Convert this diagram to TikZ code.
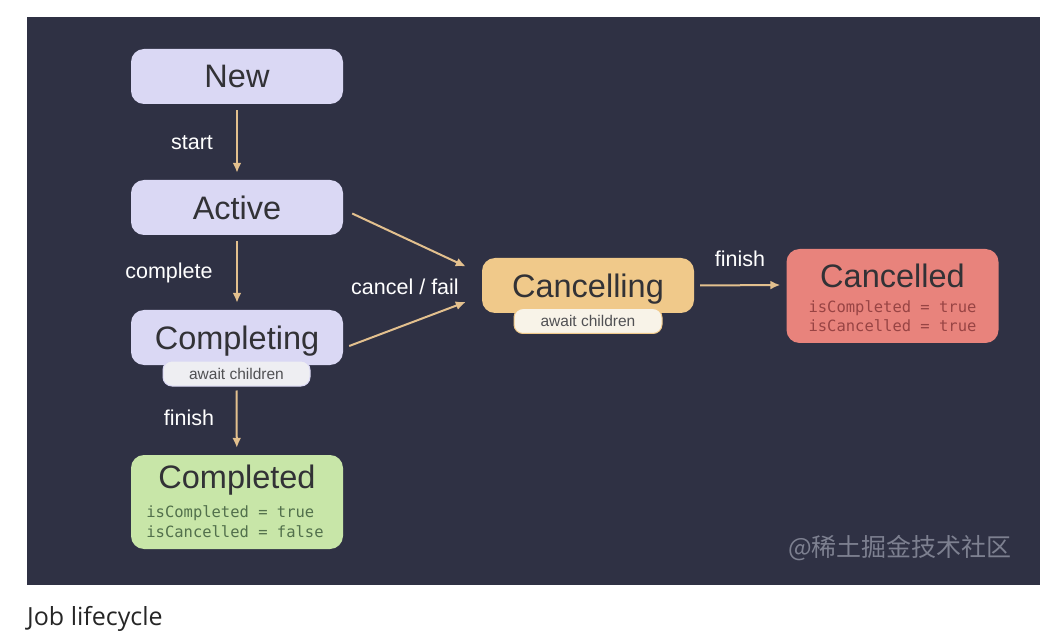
\documentclass[tikz,border=0pt]{standalone}
\usepackage{fontspec}
\setmainfont{Liberation Sans}
\newfontfamily\monofont{DejaVu Sans Mono}
\newfontfamily\capfont{Open Sans}
\newfontfamily\cjkfont{Noto Sans CJK SC}
\usetikzlibrary{arrows.meta,positioning,calc}
\definecolor{boardbg}{RGB}{47,49,68}
\definecolor{lavender}{RGB}{218,216,244}
\definecolor{badgefill}{RGB}{238,238,242}
\definecolor{cancelfill}{RGB}{240,201,138}
\definecolor{cancelbadge}{RGB}{248,243,232}
\definecolor{redfill}{RGB}{232,131,124}
\definecolor{greenfill}{RGB}{200,230,168}
\definecolor{titletext}{RGB}{50,50,54}
\definecolor{arrowtan}{RGB}{227,192,142}
\definecolor{marktext}{RGB}{125,128,144}
\definecolor{greenmono}{RGB}{82,112,76}
\definecolor{redmono}{RGB}{152,68,68}

\begin{document}
\begin{tikzpicture}[x=1pt, y=-1pt,
    state/.style={rounded corners=13pt, minimum width=212pt, minimum height=55pt, inner sep=0pt, text=titletext, font=\fontsize{32.5}{34}\selectfont},
    bigstate/.style={state, minimum height=94pt},
    badge/.style={rounded corners=9pt, minimum height=25pt, inner sep=0pt, text=titletext!85, font=\fontsize{15.5}{17}\selectfont},
    title/.style={text=titletext, inner sep=0pt, font=\fontsize{32.5}{34}\selectfont},
    flags/.style={align=left, inner sep=0pt, font=\monofont\fontsize{15.5}{19.5}\selectfont},
    lbl/.style={text=white, inner sep=0pt, font=\fontsize{21.5}{23}\selectfont},
    arr/.style={-{Latex[length=10pt, width=9pt]}, line width=2pt, draw=arrowtan}
]
\fill[white] (0,0) rectangle (1063,636);
\useasboundingbox (0,0) rectangle (1063,636);
\fill[boardbg] (27,17) rectangle (1040,585);

\node[state, fill=lavender] (new) at (237,76.5) {New};
\node[state, fill=lavender] (active) at (237,207.5) {Active};
\node[state, fill=lavender] (completing) at (237,337.5) {\raisebox{-4pt}[\height][\depth]{Completing}};
\node[badge, fill=badgefill, draw=lavender, line width=1pt, minimum width=147pt] (completingWait) at (236.5,373.5) {await children};
\node[bigstate, fill=greenfill] (completed) at (237,502) {};
\node[title] (completedTitle) at (237,480) {Completed};
\node[flags, text=greenmono] (completedFlags) at (235,521.5) {isCompleted = true\\isCancelled = false};

\node[state, fill=cancelfill] (cancelling) at (588,285.5) {\raisebox{-4pt}[\height][\depth]{Cancelling}};
\node[badge, fill=cancelbadge, draw=cancelfill, line width=1pt, minimum width=148pt] (cancellingWait) at (588,321) {await children};
\node[bigstate, fill=redfill] (cancelled) at (892.5,296) {};
\node[title] (cancelledTitle) at (892.5,276) {Cancelled};
\node[flags, text=redmono] (cancelledFlags) at (892.5,316) {isCompleted = true\\isCancelled = true};

\node[lbl] (startLbl) at (192,143) {start};
\node[lbl] (completeLbl) at (169,273) {complete};
\node[lbl] (finishLbl) at (189,418) {finish};
\node[lbl] (cancelLbl) at (405,287) {cancel / fail};
\node[lbl] (finishLbl2) at (740,259) {finish};

\draw[arr, shorten <=6pt, shorten >=7pt] (new) -- (active);
\draw[arr, shorten <=6pt, shorten >=7pt] (active) -- (completing);
\draw[arr, shorten <=4pt, shorten >=7pt] (completingWait) -- (completed);
\draw[arr] ([shift={(9,6)}]active.east) -- ([shift={(-16,-19)}]cancelling.west);
\draw[arr] ([shift={(6,8.5)}]completing.east) -- ([shift={(-16,16.5)}]cancelling.west);
\draw[arr] ([shift={(6,0)}]cancelling.east) -- ([shift={(-6,-11)}]cancelled.west);

\node[text=marktext, font=\cjkfont\fontsize{25}{27}\selectfont] (mark) at (900,548) {@稀土掘金技术社区};
\node[anchor=west, inner sep=0pt, text=black!85, font=\capfont\fontsize{25}{27}\selectfont] (caption) at (27,619) {Job lifecycle};
\end{tikzpicture}
\end{document}
